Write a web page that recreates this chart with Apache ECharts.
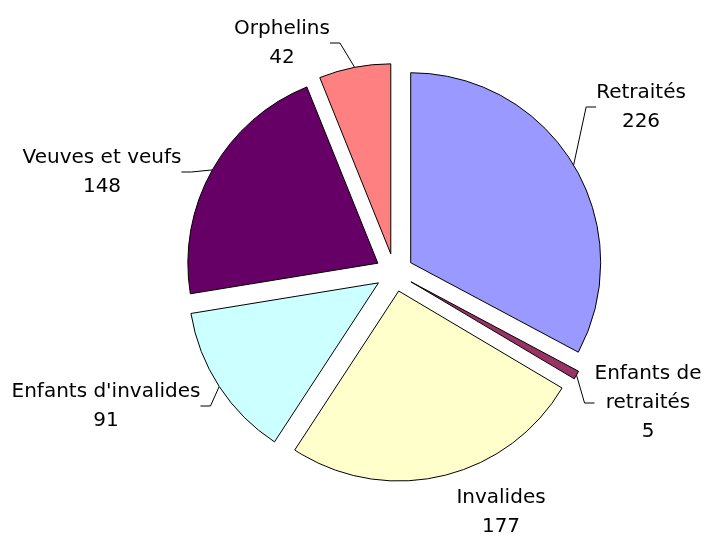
<!DOCTYPE html>
<html>
<head>
<meta charset="utf-8">
<script src="https://cdn.jsdelivr.net/npm/echarts@6/dist/echarts.min.js"></script>
<style>
html,body{margin:0;padding:0;background:#fff;}
#chart{width:707px;height:536px;}
</style>
</head>
<body>
<div id="chart"></div>
<script>
const categories = ['Retraités', 'Enfants de\nretraités', 'Invalides', "Enfants d'invalides", 'Veuves et veufs', 'Orphelins'];
const values = [226, 5, 177, 91, 148, 42];
const colors = ['#9999FF', '#993366', '#FFFFCC', '#CCFFFF', '#660066', '#FF8080'];
const showLeader = [true, true, false, true, true, true];
// label block centres (layout)
const labelPos = [[641, 107], [648, 403], [501, 512], [106, 406], [102, 172], [282, 43]];

const CX = 394.4, CY = 272.5, R = 190, EXPLODE = 19;
const FONT = '"DejaVu Sans", sans-serif';

const total = values.reduce((a, b) => a + b, 0);
let cum = 0;
const series = values.map((v, i) => {
  const mid = (cum + v / 2) / total * 2 * Math.PI; // clockwise from 12 o'clock
  cum += v;
  const cx = CX + EXPLODE * Math.sin(mid);
  const cy = CY - EXPLODE * Math.cos(mid);
  return {
    type: 'pie',
    silent: true,
    center: [cx, cy],
    radius: [0, R],
    startAngle: 90,
    clockwise: true,
    avoidLabelOverlap: false,
    emphasis: {disabled: true, scale: false},
    label: {
      show: false,
      position: 'outside',
      formatter: '{b}\n{c}',
      fontFamily: FONT,
      fontSize: 20,
      lineHeight: 29,
      color: '#000'
    },
    labelLine: {
      show: false,
      length: 10,
      length2: 10,
      smooth: false,
      lineStyle: {color: '#000', width: 1}
    },
    labelLayout: function (p) {
      const pos = labelPos[i];
      return {x: pos[0], y: pos[1], align: 'center', verticalAlign: 'middle'};
    },
    data: categories.map((c, j) => ({
      name: c,
      value: values[j],
      itemStyle: j === i
        ? {color: colors[j], borderColor: '#000', borderWidth: 1}
        : {color: 'rgba(0,0,0,0)', borderWidth: 0},
      label: {show: j === i},
      labelLine: {show: j === i && showLeader[j]}
    }))
  };
});

const chart = echarts.init(document.getElementById('chart'), null, {renderer: 'canvas'});
chart.setOption({
  animation: false,
  backgroundColor: '#ffffff',
  series: series
});
</script>
</body>
</html>
